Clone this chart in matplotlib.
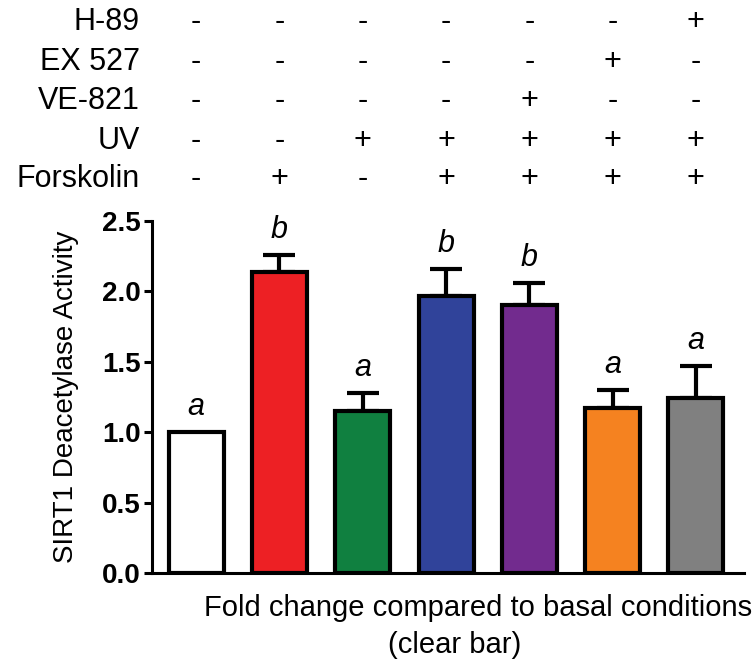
import numpy as np
import matplotlib.pyplot as plt
from matplotlib.transforms import blended_transform_factory

plt.rcParams['font.family'] = ['Liberation Sans', 'DejaVu Sans']

# bar data (fold change)
values = [1.0, 2.14, 1.15, 1.97, 1.90, 1.17, 1.24]
errors = [0.0, 0.12, 0.13, 0.19, 0.16, 0.13, 0.23]
letters = ['a', 'b', 'a', 'b', 'b', 'a', 'a']
colors = ['#ffffff', '#ed2024', '#108040', '#30439a', '#722b8e', '#f58220', '#808080']

# treatment table
rows = ['H-89', 'EX 527', 'VE-821', 'UV', 'Forskolin']
signs = {
    'H-89':      ['-', '-', '-', '-', '-', '-', '+'],
    'EX 527':    ['-', '-', '-', '-', '-', '+', '-'],
    'VE-821':    ['-', '-', '-', '-', '+', '-', '-'],
    'UV':        ['-', '-', '+', '+', '+', '+', '+'],
    'Forskolin': ['-', '+', '-', '+', '+', '+', '+'],
}

fig = plt.figure(figsize=(7.54, 6.69), dpi=100)
ax = fig.add_axes([0.2016, 0.1435, 0.7854, 0.5262])

x = np.arange(len(values))
ax.bar(x, values, width=0.66, color=colors, edgecolor='black', linewidth=3, zorder=3)

has_err = np.array(errors) > 0
ax.errorbar(x[has_err], np.array(values)[has_err],
            yerr=[np.zeros(has_err.sum()), np.array(errors)[has_err]],
            fmt='none', ecolor='black', elinewidth=3, capsize=11.5, capthick=3, zorder=2)

for xi, v, e, lab in zip(x, values, errors, letters):
    ax.annotate(lab, (xi, v + e), xytext=(0, 7), textcoords='offset points',
                ha='center', va='bottom', fontsize=22, style='italic')

ax.set_xlim(-0.53, 6.58)
ax.set_ylim(0, 2.5)
ax.set_yticks([0.0, 0.5, 1.0, 1.5, 2.0, 2.5])
ax.set_yticklabels(['0.0', '0.5', '1.0', '1.5', '2.0', '2.5'], fontweight='bold', fontsize=20)
ax.set_xticks([])
ax.spines['top'].set_visible(False)
ax.spines['right'].set_visible(False)
ax.spines['left'].set_linewidth(2.2)
ax.spines['bottom'].set_linewidth(2.2)
ax.tick_params(axis='y', width=2.2, length=6, pad=2)

ax.set_ylabel('SIRT1 Deacetylase Activity', fontsize=20, labelpad=17)

# x label: two lines, second slightly left of the first
fig.text(478 / 754, 1 - 608 / 669, 'Fold change compared to basal conditions',
         ha='center', va='center', fontsize=21)
fig.text(455 / 754, 1 - 645 / 669, '(clear bar)', ha='center', va='center', fontsize=21)

# treatment table above the plot
trans = blended_transform_factory(ax.transData, fig.transFigure)
row_y = [1 - 22 / 669, 1 - 62 / 669, 1 - 101 / 669, 1 - 141 / 669, 1 - 179 / 669]
for name, yy in zip(rows, row_y):
    fig.text(140 / 754, yy, name, ha='right', va='center', fontsize=22)
    for xi, s in zip(x, signs[name]):
        ax.text(xi, yy, s, transform=trans, ha='center', va='center', fontsize=22,
                clip_on=False)

fig.savefig('out.png', dpi=100)
